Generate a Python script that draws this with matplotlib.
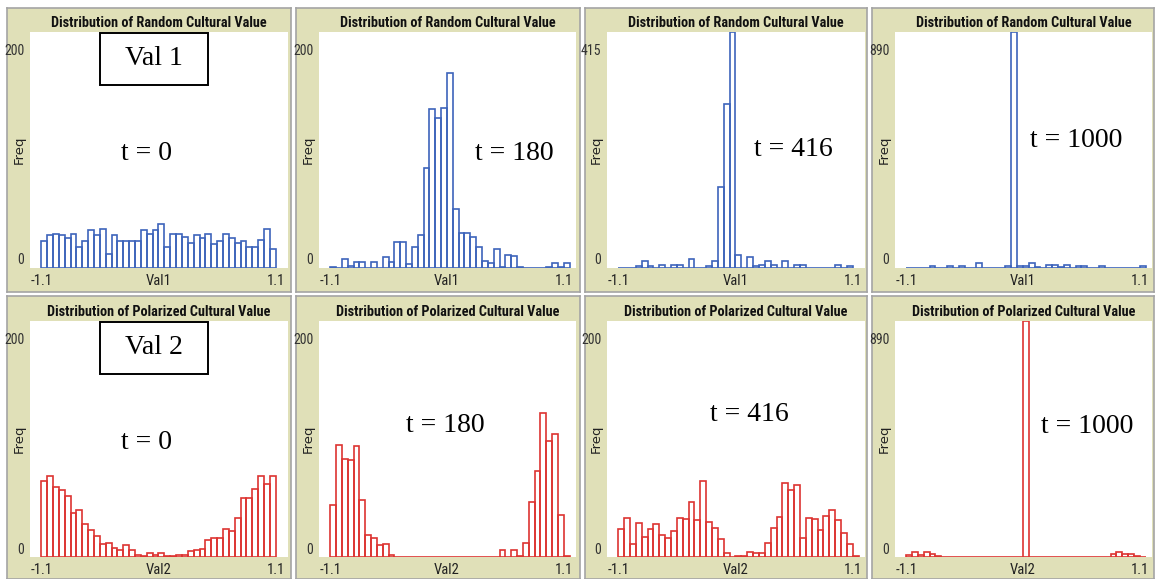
""" NetLogo style histograms of two cultural values at four time steps """
import matplotlib.pyplot as plt
import matplotlib.transforms as mtransforms
from matplotlib.patches import Rectangle

# bins start at -1.1, width 0.055
BIN_START = -1.1
BIN_WIDTH = 0.055

val1_t0 = [23, 28, 29, 28, 25, 29, 18, 23, 32, 28, 33, 12, 28, 23, 23, 23, 23, 32, 29, 32,
           37, 18, 29, 29, 26, 21, 28, 25, 29, 20, 23, 29, 25, 21, 23, 18, 18, 24, 33, 16]
val1_t180 = [1, 0, 8, 2, 5, 5, 0, 5, 0, 9, 5, 22, 22, 3, 18, 28, 85, 135, 127, 136,
             165, 50, 30, 30, 26, 18, 6, 4, 16, 1, 11, 10, 1, 0, 0, 0, 0, 1, 4, 1, 4]
val1_t416 = [0, 0, 0, 4, 12, 4, 0, 6, 0, 6, 6, 0, 15, 0, 0, 4, 12, 142, 289, 415,
             22, 0, 19, 4, 6, 12, 6, 0, 12, 0, 6, 6, 0, 0, 0, 0, 0, 6, 0, 3]
val1_t1000 = [0, 0, 0, 0, 6, 0, 0, 6, 0, 6, 0, 0, 19, 0, 0, 0, 0, 6, 890, 6,
              6, 19, 4, 0, 12, 10, 4, 12, 0, 6, 6, 0, 0, 6, 0, 0, 0, 0, 0, 0, 6]

val2_t0 = [64, 69, 59, 57, 52, 37, 40, 28, 23, 18, 11, 12, 8, 6, 10, 6, 2, 1, 3, 2,
           3, 1, 1, 2, 2, 5, 6, 7, 14, 16, 16, 24, 22, 33, 50, 50, 58, 69, 62, 69]
val2_t180 = [44, 95, 83, 82, 94, 48, 19, 16, 10, 11, 2, 0, 0, 0, 0, 0, 0, 0, 0, 0,
             0, 0, 0, 0, 0, 0, 0, 0, 0, 6, 0, 6, 1, 12, 47, 73, 122, 98, 104, 36, 1]
val2_t416 = [24, 33, 11, 29, 17, 24, 28, 19, 16, 22, 33, 32, 47, 31, 64, 30, 25, 15, 3, 0,
             1, 1, 4, 3, 3, 12, 25, 34, 63, 57, 61, 16, 33, 32, 23, 35, 40, 31, 20, 11, 1]
val2_t1000 = [6, 19, 6, 19, 13, 4, 0, 0, 0, 0, 0, 0, 0, 0, 0, 0, 0, 0, 0, 0,
              890, 0, 0, 0, 0, 0, 0, 0, 0, 0, 0, 0, 0, 0, 0, 13, 19, 13, 13, 4, 0]

rows = [[val1_t0, val1_t180, val1_t416, val1_t1000],
        [val2_t0, val2_t180, val2_t416, val2_t1000]]
y_max = [[200, 200, 415, 890], [200, 200, 200, 890]]
times = ["t = 0", "t = 180", "t = 416", "t = 1000"]
titles = ["Distribution of Random Cultural Value", "Distribution of Polarized Cultural Value"]
x_names = ["Val1", "Val2"]
box_names = ["Val 1", "Val 2"]
colors = ["#3d64bb", "#dd3431"]

BEIGE = "#e0e0b8"
W, H = 1156, 579

# pixel layout of the screenshot grid
col_frames = [(7, 291), (296, 580), (585, 867), (872, 1154)]
row_frames = [(8, 292), (296, 579)]
col_plots = [(30, 288), (319, 576), (607, 865), (895, 1152)]
row_plots = [(32, 268), (321, 557)]
t_pos = [[(0.45, 0.487), (0.759, 0.487), (0.721, 0.504), (0.704, 0.542)],
         [(0.453, 0.487), (0.49, 0.559), (0.55, 0.602), (0.747, 0.551)]]

NARROW = ["Roboto Condensed", "Liberation Sans Narrow", "Roboto", "DejaVu Sans"]
SERIF = ["Liberation Serif", "DejaVu Serif"]


def frac(x0, y0, x1, y1):
    return [x0 / W, 1 - y1 / H, (x1 - x0) / W, (y1 - y0) / H]


fig = plt.figure(figsize=(W / 100, H / 100), dpi=100)
fig.patch.set_facecolor("white")

for r in range(2):
    for c in range(4):
        # beige panel frame
        bg = fig.add_axes(frac(col_frames[c][0], row_frames[r][0], col_frames[c][1], row_frames[r][1]))
        bg.set_facecolor(BEIGE)
        bg.set_xticks([])
        bg.set_yticks([])
        for s in bg.spines.values():
            s.set_color("#a4a4a4")
            s.set_linewidth(1.2)

        ax = fig.add_axes(frac(col_plots[c][0], row_plots[r][0], col_plots[c][1], row_plots[r][1]))
        ax.set_facecolor("white")
        for s in ax.spines.values():
            s.set_visible(False)

        vals = rows[r][c]
        lefts = [BIN_START + BIN_WIDTH * i for i in range(len(vals))]
        ax.bar(lefts, vals, width=BIN_WIDTH, align="edge", fill=False,
               edgecolor=colors[r], linewidth=1.2)

        ymax = y_max[r][c]
        ax.set_xlim(-1.205, 1.215)
        ax.set_ylim(0, ymax)

        ax.set_xticks([-1.1, 0, 1.1])
        ax.set_xticklabels(["-1.1", x_names[r], "1.1"], family=NARROW, fontsize=10.5, color="#222222")
        ax.set_yticks([0, ymax])
        ax.set_yticklabels(["0", str(ymax)], family=NARROW, fontsize=10, color="#333333")
        ax.tick_params(length=0)
        ax.tick_params(axis="x", pad=4)
        ax.tick_params(axis="y", pad=4)
        # NetLogo puts the min/max labels inside the range
        ylabs = ax.get_yticklabels()
        ylabs[0].set_transform(ylabs[0].get_transform()
                               + mtransforms.ScaledTranslation(0, 0.09, fig.dpi_scale_trans))
        ylabs[1].set_transform(ylabs[1].get_transform()
                               + mtransforms.ScaledTranslation(0, -0.18, fig.dpi_scale_trans))

        ax.set_ylabel("Freq", fontsize=9.5, color="#222222")
        ax.yaxis.set_label_coords(-0.018, 0.5)

        ax.set_title(titles[r], family=NARROW, fontweight="bold", fontsize=10.3,
                     color="#111111", pad=3.5)

        tx, ty = t_pos[r][c]
        ax.text(tx, ty, times[c], transform=ax.transAxes, ha="center", va="center",
                family=SERIF, fontsize=20, color="black")

        if c == 0:
            ax.add_patch(Rectangle((0.27, 0.775), 0.418, 0.22, transform=ax.transAxes,
                                   fill=False, edgecolor="black", linewidth=1.4))
            ax.text(0.479, 0.886, box_names[r], transform=ax.transAxes, ha="center",
                    va="center", family=SERIF, fontsize=20, color="black")

fig.savefig("out.png", dpi=100)
